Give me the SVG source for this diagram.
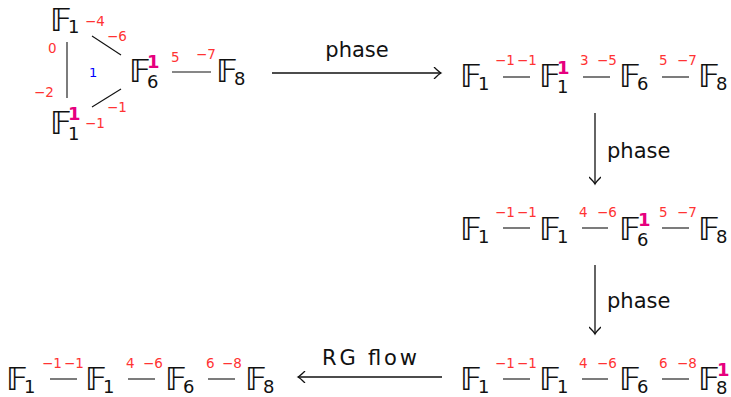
<svg xmlns="http://www.w3.org/2000/svg" width="731" height="397" viewBox="0 0 731 397">
<defs>
<style>
.F{font-family:"DejaVu Sans",sans-serif;font-size:32px;fill:#111}
.s{font-size:18px;fill:#111;font-weight:normal}
.m{font-size:18px;font-weight:bold;fill:#e6007e}
.r{font-family:"DejaVu Sans",sans-serif;font-size:13.5px;fill:#ff3333}
.b{font-family:"DejaVu Sans",sans-serif;font-size:13px;fill:#0000ff}
.lab{font-family:"DejaVu Sans",sans-serif;font-size:21px;fill:#111}
.e{stroke:#111;stroke-width:1.1;fill:none}
.a{stroke:#111;stroke-width:1.3;fill:none}
</style>
<marker id="ah" viewBox="-8 -6 10 12" markerWidth="10" markerHeight="12" refX="0" refY="0" orient="auto" markerUnits="userSpaceOnUse">
<path d="M-7,-6 Q-2,-1 0,0 Q-2,1 -7,6" fill="none" stroke="#111" stroke-width="1.3"/>
</marker>
</defs>

<g id="connectors">
<line class="e" x1="92" y1="36" x2="121" y2="55"/>
<line class="e" x1="67" y1="42" x2="67" y2="98"/>
<line class="e" x1="92" y1="107" x2="121" y2="89"/>
<line class="e" x1="172" y1="72" x2="211" y2="72"/>
<line class="e" x1="503" y1="77" x2="530" y2="77"/>
<line class="e" x1="583" y1="77" x2="610" y2="77"/>
<line class="e" x1="662" y1="77" x2="689" y2="77"/>
<line class="e" x1="503" y1="228" x2="530" y2="228"/>
<line class="e" x1="582" y1="228" x2="608" y2="228"/>
<line class="e" x1="662" y1="228" x2="689" y2="228"/>
<line class="e" x1="503" y1="379" x2="530" y2="379"/>
<line class="e" x1="582" y1="379" x2="608" y2="379"/>
<line class="e" x1="662" y1="379" x2="689" y2="379"/>
<line class="e" x1="50" y1="379" x2="77" y2="379"/>
<line class="e" x1="128" y1="379" x2="155" y2="379"/>
<line class="e" x1="208" y1="379" x2="235" y2="379"/>
<line class="a" x1="272" y1="73" x2="441" y2="73" marker-end="url(#ah)"/>
<line class="a" x1="595" y1="113" x2="595" y2="184" marker-end="url(#ah)"/>
<line class="a" x1="595" y1="265" x2="595" y2="334" marker-end="url(#ah)"/>
<line class="a" x1="442" y1="377" x2="298" y2="377" marker-end="url(#ah)"/>
</g>

<g id="edge-labels">
<text class="r" x="85" y="26">−4</text>
<text class="r" x="107" y="41">−6</text>
<text class="r" x="48" y="53">0</text>
<text class="r" x="34" y="97">−2</text>
<text class="b" x="89" y="77">1</text>
<text class="r" x="107" y="112">−1</text>
<text class="r" x="85" y="128">−1</text>
<text class="r" x="171" y="62">5</text>
<text class="r" x="196" y="59">−7</text>

<text class="r" x="495" y="65">−1</text><text class="r" x="517" y="65">−1</text>
<text class="r" x="580" y="65">3</text><text class="r" x="597" y="65">−5</text>
<text class="r" x="659" y="65">5</text><text class="r" x="677" y="65">−7</text>

<text class="r" x="495" y="217">−1</text><text class="r" x="517" y="217">−1</text>
<text class="r" x="579" y="217">4</text><text class="r" x="597" y="217">−6</text>
<text class="r" x="659" y="217">5</text><text class="r" x="677" y="217">−7</text>

<text class="r" x="495" y="368">−1</text><text class="r" x="517" y="368">−1</text>
<text class="r" x="579" y="368">4</text><text class="r" x="597" y="368">−6</text>
<text class="r" x="659" y="368">6</text><text class="r" x="677" y="368">−8</text>

<text class="r" x="42" y="368">−1</text><text class="r" x="64" y="368">−1</text>
<text class="r" x="126" y="368">4</text><text class="r" x="143" y="368">−6</text>
<text class="r" x="206" y="368">6</text><text class="r" x="222" y="368">−8</text>
</g>

<g id="arrow-labels">
<text class="lab" x="357" y="57" text-anchor="middle">phase</text>
<text class="lab" x="607" y="158">phase</text>
<text class="lab" x="607" y="308">phase</text>
<text class="lab" x="322" y="365" font-size="22" textLength="95">RG flow</text>
</g>

<g id="tri-F1a"><text class="F" x="50" y="31">𝔽<tspan class="s" x="68" y="33">1</tspan></text></g>
<g id="tri-F1b"><text class="F" x="50" y="134">𝔽<tspan class="m" x="68" y="120">1</tspan><tspan class="s" x="68" y="140">1</tspan></text></g>
<g id="tri-F6"><text class="F" x="129" y="82">𝔽<tspan class="m" x="147" y="68">1</tspan><tspan class="s" x="147" y="88">6</tspan></text></g>
<g id="tri-F8"><text class="F" x="216" y="82">𝔽<tspan class="s" x="234" y="85">8</tspan></text></g>

<g id="r1-F1"><text class="F" x="460" y="87">𝔽<tspan class="s" x="478" y="90">1</tspan></text></g>
<g id="r1-F1b"><text class="F" x="539" y="87">𝔽<tspan class="m" x="557" y="74">1</tspan><tspan class="s" x="557" y="93">1</tspan></text></g>
<g id="r1-F6"><text class="F" x="619" y="87">𝔽<tspan class="s" x="637" y="90">6</tspan></text></g>
<g id="r1-F8"><text class="F" x="698" y="87">𝔽<tspan class="s" x="716" y="90">8</tspan></text></g>

<g id="r2-F1"><text class="F" x="460" y="240">𝔽<tspan class="s" x="478" y="243">1</tspan></text></g>
<g id="r2-F1b"><text class="F" x="539" y="240">𝔽<tspan class="s" x="557" y="243">1</tspan></text></g>
<g id="r2-F6"><text class="F" x="619" y="240">𝔽<tspan class="m" x="638" y="226">1</tspan><tspan class="s" x="637" y="246">6</tspan></text></g>
<g id="r2-F8"><text class="F" x="698" y="240">𝔽<tspan class="s" x="716" y="243">8</tspan></text></g>

<g id="r3-F1"><text class="F" x="460" y="390">𝔽<tspan class="s" x="478" y="393">1</tspan></text></g>
<g id="r3-F1b"><text class="F" x="539" y="390">𝔽<tspan class="s" x="557" y="393">1</tspan></text></g>
<g id="r3-F6"><text class="F" x="619" y="390">𝔽<tspan class="s" x="637" y="393">6</tspan></text></g>
<g id="r3-F8"><text class="F" x="698" y="390">𝔽<tspan class="m" x="717" y="376">1</tspan><tspan class="s" x="716" y="394">8</tspan></text></g>

<g id="l-F1"><text class="F" x="6" y="390">𝔽<tspan class="s" x="24" y="393">1</tspan></text></g>
<g id="l-F1b"><text class="F" x="85" y="390">𝔽<tspan class="s" x="103" y="393">1</tspan></text></g>
<g id="l-F6"><text class="F" x="165" y="390">𝔽<tspan class="s" x="183" y="393">6</tspan></text></g>
<g id="l-F8"><text class="F" x="245" y="390">𝔽<tspan class="s" x="263" y="393">8</tspan></text></g>
</svg>
